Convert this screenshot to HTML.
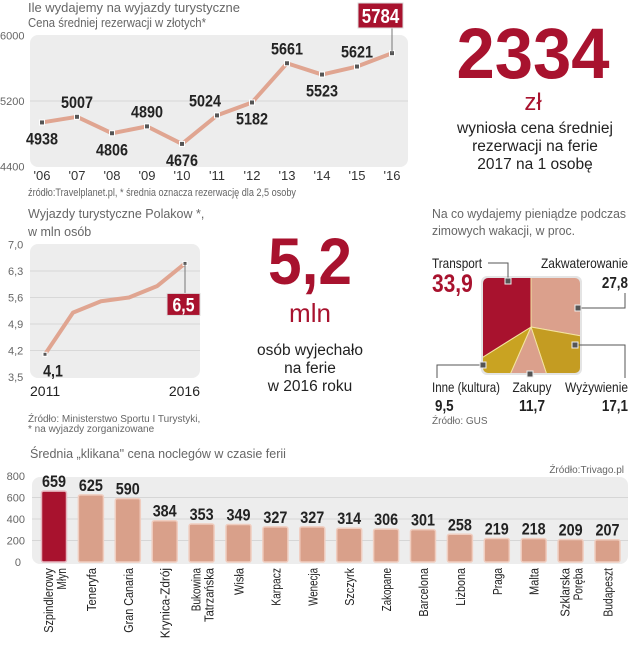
<!DOCTYPE html>
<html><head><meta charset="utf-8"><style>
body{margin:0;background:#fff;width:629px;height:640px;overflow:hidden}
svg text{font-family:"Liberation Sans",sans-serif}
.n{font-family:"Liberation Sans",sans-serif;font-weight:bold}
</style></head><body>
<svg id="s" width="629" height="640" viewBox="0 0 629 640" xmlns="http://www.w3.org/2000/svg">
<defs><clipPath id="pc"><rect x="483" y="278" width="97" height="95" rx="5"/></clipPath></defs>
<g>
<text x="28" y="12" font-size="13" fill="#666" textLength="212" lengthAdjust="spacingAndGlyphs">Ile wydajemy na wyjazdy turystyczne</text>
<text x="28" y="27" font-size="13" fill="#666" textLength="178" lengthAdjust="spacingAndGlyphs">Cena średniej rezerwacji w złotych*</text>
<rect x="30" y="35" width="378" height="132" rx="8" fill="#ededed"/>
<g id="c1"></g>
<text x="28" y="196" font-size="11" fill="#666" textLength="268" lengthAdjust="spacingAndGlyphs">źródło:Travelplanet.pl, * średnia oznacza rezerwację dla 2,5 osoby</text>
</g>
<g>
<text x="533" y="78" font-size="71" font-weight="bold" fill="#a8122e" text-anchor="middle" textLength="153" lengthAdjust="spacingAndGlyphs">2334</text>
<text x="533" y="110" font-size="24" fill="#a8122e" text-anchor="middle">zł</text>
<text x="535" y="133" font-size="15.5" fill="#222" text-anchor="middle">wyniosła cena średniej</text>
<text x="535" y="151" font-size="15.5" fill="#222" text-anchor="middle">rezerwacji na ferie</text>
<text x="535" y="169" font-size="15.5" fill="#222" text-anchor="middle">2017 na 1 osobę</text>
</g>
<g>
<text x="28" y="218" font-size="12.5" fill="#666">Wyjazdy turystyczne Polakow *,</text>
<text x="28" y="236" font-size="12.5" fill="#666">w mln osób</text>
<rect x="30" y="244" width="170" height="134" rx="8" fill="#ededed"/>
<g id="c2"></g>
<text x="28" y="422" font-size="10" fill="#666">Źródło: Ministerstwo Sportu I Turystyki,</text>
<text x="28" y="432" font-size="10" fill="#666">* na wyjazdy zorganizowane</text>
</g>
<g>
<text x="310" y="284" font-size="66" font-weight="bold" fill="#a8122e" text-anchor="middle" textLength="84" lengthAdjust="spacingAndGlyphs">5,2</text>
<text x="310" y="322" font-size="26" fill="#a8122e" text-anchor="middle">mln</text>
<text x="310" y="355" font-size="15.5" fill="#222" text-anchor="middle">osób wyjechało</text>
<text x="310" y="373" font-size="15.5" fill="#222" text-anchor="middle">na ferie</text>
<text x="310" y="391" font-size="15.5" fill="#222" text-anchor="middle">w 2016 roku</text>
</g>
<g>
<text x="432" y="218" font-size="12.5" fill="#666" textLength="194" lengthAdjust="spacingAndGlyphs">Na co wydajemy pieniądze podczas</text>
<text x="432" y="235" font-size="12.5" fill="#666" textLength="143" lengthAdjust="spacingAndGlyphs">zimowych wakacji, w proc.</text>
<g id="c3"></g>
<text x="432" y="424" font-size="10" fill="#666">Źródło: GUS</text>
</g>
<g>
<text x="30" y="458" font-size="12.5" fill="#666">Średnia „klikana" cena noclegów w czasie ferii</text>
<text x="624" y="473" font-size="10" fill="#666" text-anchor="end">Źródło:Trivago.pl</text>
<rect x="32" y="477" width="596" height="87" rx="8" fill="#ededed"/>
<g id="c4"></g>
</g>
</svg>
<script>
const c1Years = ["'06","'07","'08","'09","'10","'11","'12","'13","'14","'15","'16"];
const c1Values = [4938,5007,4806,4890,4676,5024,5182,5661,5523,5621,5784];
const c1Ticks = [6000,5200,4400];
const c2Years = [2011,2012,2013,2014,2015,2016];
const c2Values = [4.1,5.2,5.5,5.6,5.9,6.5];
const c2Ticks = [7.0,6.3,5.6,4.9,4.2,3.5];
const pieLabels = ["Zakwaterowanie","Wyżywienie","Zakupy","Inne (kultura)","Transport"];
const pieValues = [27.8,17.1,11.7,9.5,33.9];
const barCities = [["Szpindlerowy","Młyn"],["Teneryfa"],["Gran Canaria"],["Krynica-Zdrój"],["Bukowina","Tatrzańska"],["Wisła"],["Karpacz"],["Wenecja"],["Szczyrk"],["Zakopane"],["Barcelona"],["Lizbona"],["Praga"],["Malta"],["Szklarska","Poręba"],["Budapeszt"]];
const barValues = [659,625,590,384,353,349,327,327,314,306,301,258,219,218,209,207];
const barTicks = [800,600,400,200,0];

const NS="http://www.w3.org/2000/svg";
function mk(p,tag,at,txt){const e=document.createElementNS(NS,tag);for(const k in at)e.setAttribute(k,at[k]);if(txt!==undefined)e.textContent=txt;
 if(at.class==='n'){const s=String(txt);let w=0;for(const c of s)w+=(c===','?0.22:0.47);e.setAttribute('textLength',(w*at['font-size']).toFixed(1));e.setAttribute('lengthAdjust','spacingAndGlyphs');}
 p.appendChild(e);return e;}
const fmt=v=>v.toFixed(1).replace('.',',');

(function(){
const g=document.getElementById('c1');
const x=i=>42+35*i, y=v=>101-(v-5200)/800*65.5;
c1Ticks.forEach(t=>{
 if(t===5200){const l=mk(g,'line',{x1:30,x2:408,y1:y(t),y2:y(t),stroke:'#d8d8d8'});
 
 }
 const e=mk(g,'text',{x:0,y:y(t)+4,'font-size':11,fill:'#666'},t);
 
 
});
const pl=mk(g,'polyline',{points:c1Values.map((v,i)=>x(i)+','+y(v)).join(' '),fill:'none',stroke:'#e0a591','stroke-width':4,'stroke-linejoin':'round'});


const off=[[0,16],[0,-15],[0,16],[0,-15],[0,16],[-12,-15],[0,16],[0,-15],[0,16],[0,-15]];
c1Values.forEach((v,i)=>{
 const p=mk(g,'rect',{x:x(i)-2.5,y:y(v)-2.5,width:5,height:5,fill:'#555',stroke:'#fff','stroke-width':1});
 
 
 const yl=mk(g,'text',{x:x(i),y:180,'font-size':13,fill:'#333','text-anchor':'middle'},c1Years[i]);
 
 
 if(i<off.length){
  const t=mk(g,'text',{x:x(i)+off[i][0],y:y(v)+off[i][1]+6,'font-size':17,fill:'#222','text-anchor':'middle',class:'n'},v);
  
  
 } else {
  const ln=mk(g,'line',{x1:x(i),x2:x(i),y1:28,y2:y(v),stroke:'#777'});
  
  
  const b=mk(g,'rect',{x:x(i)-34,y:3,width:45,height:25,fill:'#a8122e',stroke:'#ddd'});
  
  
  const t=mk(g,'text',{x:x(i)-11.5,y:23,'font-size':20,fill:'#fff','text-anchor':'middle',class:'n'},v);
  
  
 }
});
})();

(function(){
const g=document.getElementById('c2');
const x=i=>45+28*i, y=v=>377-(v-3.5)/0.7*26.5;
c2Ticks.forEach(t=>{
 if(t>3.5&&t<7){const l=mk(g,'line',{x1:30,x2:200,y1:y(t),y2:y(t),stroke:'#d8d8d8'});
 
 }
 const e=mk(g,'text',{x:8,y:y(t)+4,'font-size':11,fill:'#666'},fmt(t));
 
 
});
const pl=mk(g,'polyline',{points:c2Values.map((v,i)=>x(i)+','+y(v)).join(' '),fill:'none',stroke:'#e0a591','stroke-width':4,'stroke-linejoin':'round'});


const n=c2Values.length-1;
[0,n].forEach(i=>{
 const p=mk(g,'rect',{x:x(i)-2,y:y(c2Values[i])-2,width:4,height:4,fill:'#555',stroke:'#fff'});
 
 
 const yl=mk(g,'text',{x:i?200:30,y:396,'font-size':14,fill:'#222','text-anchor':i?'end':'start'},c2Years[i]);
 
 
});
const t0=mk(g,'text',{x:x(0)+8,y:y(c2Values[0])+22,'font-size':17,fill:'#222','text-anchor':'middle',class:'n'},fmt(c2Values[0]));


const ln=mk(g,'line',{x1:x(n),x2:x(n),y1:y(c2Values[n]),y2:y(c2Values[n])+30,stroke:'#777'});


const b=mk(g,'rect',{x:x(n)-18,y:y(c2Values[n])+30,width:33,height:22,fill:'#a8122e',stroke:'#ddd'});


const t=mk(g,'text',{x:x(n)-1.5,y:y(c2Values[n])+48,'font-size':19,fill:'#fff','text-anchor':'middle',class:'n'},fmt(c2Values[n]));


})();

(function(){
const g=document.getElementById('c3');
const cx=531,cy=327,R=120;
const cols=['#dba08c','#c49c22','#dba08c','#c9a322','#a8122e'];
const tot=pieValues.reduce((a,b)=>a+b,0);
const bg=mk(g,'rect',{x:481,y:276,width:101,height:99,rx:6,fill:'#e4e4e4'});


const sg=mk(g,'g',{'clip-path':'url(#pc)'});
let a=0;
const pt=(ang,r)=>[cx+r*Math.sin(ang),cy-r*Math.cos(ang)];
pieValues.forEach((v,i)=>{
 const a0=a/tot*2*Math.PI; a+=v; const a1=a/tot*2*Math.PI;
 const p0=pt(a0,R),p1=pt(a1,R);
 const s=mk(sg,'path',{d:`M${cx},${cy}L${p0[0]},${p0[1]}A${R},${R} 0 ${a1-a0>Math.PI?1:0} 1 ${p1[0]},${p1[1]}Z`,fill:cols[i],stroke:'#f3e3a0','stroke-width':1});
 
 
});
const lab=[
 {x:628,y:268,a:'end',vy:288,w:87,m:[578,308],l:'578,308 625,308 625,293'},
 {x:628,y:392,a:'end',vy:411,w:63,m:[575,345],l:'575,345 625,345 625,378'},
 {x:532,y:392,a:'middle',vy:411,w:39,m:[530,374],l:''},
 {x:432,y:392,a:'start',vy:411,w:68,m:[483,365],l:'483,365 437,365 437,378'},
 {x:432,y:268,a:'start',vy:292,w:50,m:[508,281],l:'508,281 508,263 488,263'}];
lab.forEach((o,i)=>{
 if(o.l){const pl=mk(g,'polyline',{points:o.l,fill:'none',stroke:'#555'});
 
 }
 const m=mk(g,'rect',{x:o.m[0]-3,y:o.m[1]-3,width:6,height:6,fill:'#555',stroke:'#eee'});
 
 
 const t=mk(g,'text',{x:o.x,y:o.y,'font-size':14,fill:'#222','text-anchor':o.a,textLength:o.w,lengthAdjust:'spacingAndGlyphs'},pieLabels[i]);
 
 
 const big=i===4;
 const v=mk(g,'text',{x:o.a==='start'&&!big?o.x+3:o.x,y:o.vy,'font-size':big?25:16,fill:big?'#a8122e':'#222','text-anchor':o.a,class:'n'},fmt(pieValues[i]));
 
 
});
})();

(function(){
const g=document.getElementById('c4');
const x=i=>54+36.9*i, y=v=>562-v/200*21.5, bw=25;
barTicks.forEach(t=>{
 if(t>0&&t<800){const l=mk(g,'line',{x1:32,x2:628,y1:y(t),y2:y(t),stroke:'#d6d6d6'});
 
 }
 const e=mk(g,'text',{x:t?25:21,y:y(t)+4,'font-size':11,fill:'#666','text-anchor':'end'},t);
 
 
});
barValues.forEach((v,i)=>{
 const r=mk(g,'rect',{x:x(i)-bw/2,y:y(v),width:bw,height:562-y(v),rx:2,fill:i===0?'#a8122e':'#d9a08a',stroke:i===0?'#e6b6bf':'#f0cdbf','stroke-width':1.5});
 
 
 const t=mk(g,'text',{x:x(i),y:y(v)-4,'font-size':17,fill:'#222','text-anchor':'middle',class:'n'},v);
 
 
 const lines=barCities[i];
 lines.forEach((s,k)=>{
  const xx=x(i)+5+(lines.length>1?(k===0?-6:7):0);
  const c=mk(g,'text',{x:0,y:0,'font-size':13,fill:'#222','text-anchor':'end',textLength:(s.length*5.4).toFixed(1),lengthAdjust:'spacingAndGlyphs',transform:`translate(${xx.toFixed(1)},568) rotate(-90)`},s);
  
  
 });
});
})();
</script>
</body></html>
